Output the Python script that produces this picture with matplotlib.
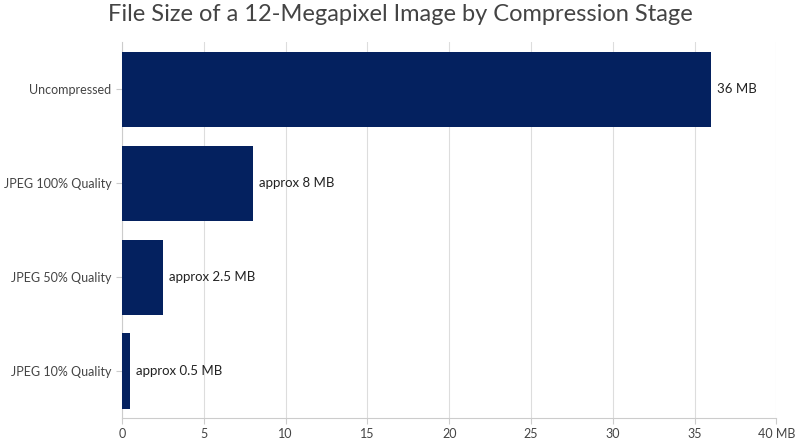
import matplotlib
matplotlib.use("Agg")
import matplotlib.pyplot as plt

categories = ["Uncompressed", "JPEG 100% Quality", "JPEG 50% Quality", "JPEG 10% Quality"]
values = [36, 8, 2.5, 0.5]
labels = ["36 MB", "approx 8 MB", "approx 2.5 MB", "approx 0.5 MB"]
xticks = [0, 5, 10, 15, 20, 25, 30, 35, 40]
xticklabels = ["0", "5", "10", "15", "20", "25", "30", "35", "40 MB"]

plt.rcParams['font.family'] = ['Lato', 'DejaVu Sans']
fig = plt.figure(figsize=(8, 4.47), dpi=100)
ax = fig.add_axes([0.1525, 0.065, 0.818, 0.84])
y = range(len(categories))
ax.barh(y, values, height=0.8, color="#04215f", zorder=3)
for i, (v, l) in enumerate(zip(values, labels)):
    ax.text(v + 0.35, i, l, va="center", ha="left", fontsize=9.5, color="#222222")
ax.set_yticks(list(y))
ax.set_yticklabels(categories, fontsize=9, color="#444444")
ax.invert_yaxis()
ax.set_ylim(3.5, -0.5)
ax.set_xlim(0, 40)
ax.set_xticks(xticks)
ax.set_xticklabels(xticklabels, fontsize=9, color="#444444")
ax.grid(axis="x", color="#dddddd", linewidth=0.8, zorder=0)
for s in ["top", "right"]:
    ax.spines[s].set_visible(False)
ax.spines["left"].set_color("#cccccc")
ax.spines["bottom"].set_color("#cccccc")
ax.tick_params(axis="both", length=4, color="#cccccc")
fig.suptitle("File Size of a 12-Megapixel Image by Compression Stage", fontsize=17, color="#444444", y=0.99)
fig.savefig("out.png", dpi=100)
